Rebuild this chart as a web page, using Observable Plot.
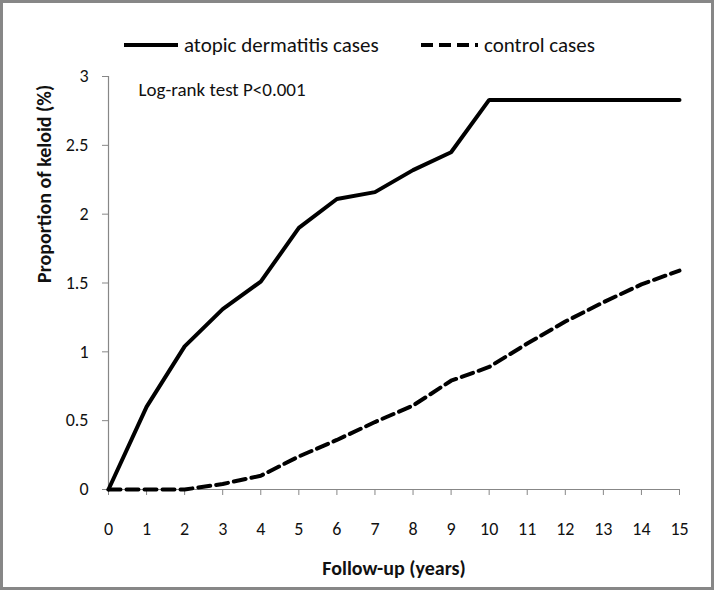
<!DOCTYPE html>
<html><head><meta charset="utf-8">
<script src="https://cdn.jsdelivr.net/npm/d3@7"></script>
<script src="https://cdn.jsdelivr.net/npm/@observablehq/plot@0.6"></script>
<style>
body{margin:0;background:#fff;}
#frame{position:relative;width:714px;height:590px;box-sizing:border-box;border:3px solid #878787;background:#fff;font-family:Carlito,Lato,sans-serif;color:#111;overflow:hidden;}
#legend{position:relative;height:60px;}
.item{position:absolute;top:30px;height:24px;display:flex;align-items:center;font-size:21px;white-space:nowrap;}
.item svg{margin-right:6px;display:block}
#chart svg{display:block}
</style></head><body>
<div id="frame"><div id="legend"></div><div id="chart"></div></div>
<script>
const years = [0,1,2,3,4,5,6,7,8,9,10,11,12,13,14,15];
const atopic = [0,0.60,1.04,1.31,1.51,1.90,2.11,2.16,2.32,2.45,2.83,2.83,2.83,2.83,2.83,2.83];
const control = [0,0,0,0.04,0.10,0.24,0.36,0.49,0.61,0.79,0.89,1.06,1.22,1.36,1.49,1.59];
const seriesNames = ["atopic dermatitis cases","control cases"];
const xTicks = [0,1,2,3,4,5,6,7,8,9,10,11,12,13,14,15];
const yTicks = [0,0.5,1,1.5,2,2.5,3];
const annotation = "Log-rank test P<0.001";
const xLabel = "Follow-up (years)";
const yLabel = "Proportion of keloid (%)";

const dashes = [null, "12,6"];
const data = [];
years.forEach((t,i)=>{
  data.push({t, v: atopic[i], s: seriesNames[0]});
  data.push({t, v: control[i], s: seriesNames[1]});
});

// legend
const legend = document.getElementById("legend");
const legendLeft = [121, 418];
const swatchW = [54, 57];
seriesNames.forEach((name,i)=>{
  const div = document.createElement("div");
  div.className = "item";
  div.style.left = legendLeft[i] + "px";
  const w = swatchW[i];
  div.innerHTML = `<svg width="${w}" height="6"><line x1="0" y1="3" x2="${w}" y2="3" stroke="#000" stroke-width="4" ${dashes[i] ? `stroke-dasharray="${dashes[i]}"` : ""}/></svg><span>${name}</span>`;
  legend.appendChild(div);
});

const gray = "#878787";
const txt = "#111";
const font = "Carlito, Lato, sans-serif";

const chart = Plot.plot({
  width: 708,
  height: 524,
  marginLeft: 105,
  marginRight: 32,
  marginTop: 13,
  marginBottom: 98,
  style: {fontFamily: font, background: "#fff", color: txt},
  x: {domain: [0,15], axis: null},
  y: {domain: [0,3], axis: null},
  marks: [
    Plot.ruleY([0], {stroke: gray, strokeWidth: 1.2}),
    Plot.ruleX([0], {stroke: gray, strokeWidth: 1.2}),
    Plot.axisX({ticks: xTicks, tickSize: 6, tickPadding: 27, label: null, stroke: gray, fill: txt, fontSize: 18, tickFormat: d => String(d)}),
    Plot.axisY({ticks: yTicks, tickSize: 6, tickPadding: 14, label: null, stroke: gray, fill: txt, fontSize: 18, tickFormat: d => String(d)}),
    Plot.line(data.filter(d=>d.s===seriesNames[0]), {x: "t", y: "v", stroke: "#000", strokeWidth: 4, strokeLinejoin: "miter"}),
    Plot.line(data.filter(d=>d.s===seriesNames[1]), {x: "t", y: "v", stroke: "#000", strokeWidth: 4, strokeDasharray: dashes[1]}),
    Plot.text([annotation], {frameAnchor: "top-left", textAnchor: "start", lineAnchor: "middle", dx: 30, dy: 13, fontSize: 19, fill: txt}),
    Plot.text([xLabel], {frameAnchor: "bottom", lineAnchor: "middle", dy: 79, fontSize: 20, fontWeight: "bold", fill: txt}),
    Plot.text([yLabel], {frameAnchor: "left", rotate: -90, lineAnchor: "middle", dx: -64, fontSize: 20, fontWeight: "bold", fill: txt})
  ]
});
document.getElementById("chart").appendChild(chart);
</script>
</body></html>
